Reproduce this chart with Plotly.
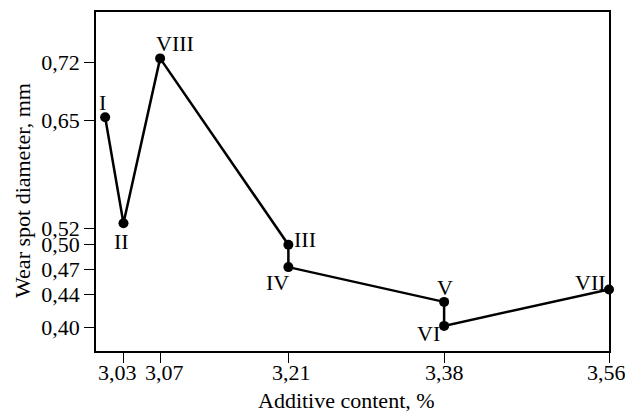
import plotly.graph_objects as go

# Data
additive = [3.01, 3.03, 3.07, 3.21, 3.21, 3.38, 3.38, 3.56]
wear = [0.654, 0.526, 0.725, 0.500, 0.473, 0.431, 0.402, 0.446]
point_labels = ["I", "II", "VIII", "III", "IV", "V", "VI", "VII"]

x_tick_vals = [3.03, 3.07, 3.21, 3.38, 3.56]
x_tick_text = ["3,03", "3,07", "3,21", "3,38", "3,56"]
y_tick_vals = [0.40, 0.44, 0.47, 0.50, 0.52, 0.65, 0.72]
y_tick_text = ["0,40", "0,44", "0,47", "0,50", "0,52", "0,65", "0,72"]

x_title = "Additive content, %"
y_title = "Wear spot diameter, mm"

# label offsets in pixels (style only)
label_shift = [(-3, 15), (-2, -18), (15, 15), (17, 5), (-11, -15), (1, 14), (-16, -8), (-19, 7)]
x_ticklabel_shift = [-6, 4, 3, 0, -3]

FONT = "Liberation Serif"
FS = 22

fig = go.Figure()
fig.add_trace(go.Scatter(
    x=additive, y=wear, mode="lines+markers",
    line=dict(color="black", width=2.5),
    marker=dict(color="black", size=10),
    cliponaxis=False, showlegend=False, hoverinfo="skip",
))

for xv, yv, lab, (dx, dy) in zip(additive, wear, point_labels, label_shift):
    fig.add_annotation(x=xv, y=yv, text=lab, showarrow=False,
                       xshift=dx, yshift=dy,
                       font=dict(family=FONT, size=FS, color="black"))

# x tick labels drawn as annotations at the tick positions (to keep 3,03 / 3,07 apart)
for xv, txt, dx in zip(x_tick_vals, x_tick_text, x_ticklabel_shift):
    fig.add_annotation(x=xv, xref="x", y=0, yref="paper", text=txt, showarrow=False,
                       xanchor="center", yanchor="middle", xshift=dx, yshift=-21,
                       font=dict(family=FONT, size=FS, color="black"))

# axis titles placed as paper annotations
fig.add_annotation(xref="paper", yref="paper", x=-0.1435, y=0.4734,
                   text=y_title, textangle=-90, showarrow=False,
                   xanchor="center", yanchor="middle",
                   font=dict(family=FONT, size=FS, color="black"))
fig.add_annotation(xref="paper", yref="paper", x=0.4887, y=-0.1457,
                   text=x_title, showarrow=False,
                   xanchor="center", yanchor="middle",
                   font=dict(family=FONT, size=FS, color="black"))

fig.update_layout(
    width=625, height=412,
    margin=dict(l=96, r=16, t=12, b=61, autoexpand=False),
    paper_bgcolor="white", plot_bgcolor="white",
    font=dict(family=FONT, size=FS, color="black"),
    xaxis=dict(
        range=[3.0, 3.56], tickvals=x_tick_vals, showticklabels=False,
        showgrid=False, zeroline=False,
        showline=True, linecolor="black", linewidth=1.7, mirror=True,
        ticks="outside", ticklen=10, tickwidth=1.3, tickcolor="black",
    ),
    yaxis=dict(
        range=[0.3717, 0.781], tickvals=y_tick_vals, ticktext=y_tick_text,
        tickangle=0,
        showgrid=False, zeroline=False,
        showline=True, linecolor="black", linewidth=1.7, mirror=True,
        ticks="outside", ticklen=10, tickwidth=1.3, tickcolor="black",
        tickfont=dict(family=FONT, size=FS),
    ),
)

fig.write_html("out.html", config={"displayModeBar": False},
               post_script="document.body.style.margin='0';")
